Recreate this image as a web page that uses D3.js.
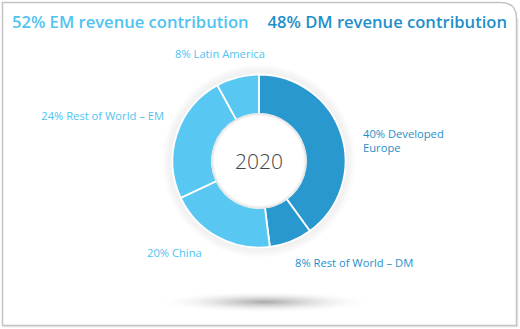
<!DOCTYPE html>
<html><head><meta charset="utf-8">
<script src="https://cdn.jsdelivr.net/npm/d3@7"></script>
<style>html,body{margin:0;padding:0;background:#fff;}svg{display:block;}</style>
</head><body>
<svg id="c" width="520" height="329"></svg>
<script>
const categories = ["Developed Europe", "Rest of World – DM", "China", "Rest of World – EM", "Latin America"];
const values = [40, 8, 20, 24, 8];
const groups = ["DM", "DM", "EM", "EM", "EM"];
const labelLines = [["40% Developed", "Europe"], ["8% Rest of World – DM"], ["20% China"], ["24% Rest of World – EM"], ["8% Latin America"]];
const headlines = ["52% EM revenue contribution", "48% DM revenue contribution"];
const centerLabel = "2020";

const svg = d3.select("#c");
const font = "'Open Sans', sans-serif";
const color = d3.scaleOrdinal().domain(["DM", "EM"]).range(["#2898cf", "#58c7f1"]);
const textColor = d3.scaleOrdinal().domain(["DM", "EM"]).range(["#1f8fca", "#50c3f0"]);

const defs = svg.append("defs");
const sh = defs.append("radialGradient").attr("id", "sh");
sh.append("stop").attr("offset", "0%").attr("stop-color", "#999").attr("stop-opacity", 0.85);
sh.append("stop").attr("offset", "40%").attr("stop-color", "#bbb").attr("stop-opacity", 0.5);
sh.append("stop").attr("offset", "100%").attr("stop-color", "#fff").attr("stop-opacity", 0);
const halo = defs.append("radialGradient").attr("id", "halo").attr("gradientUnits", "userSpaceOnUse")
  .attr("cx", 0).attr("cy", 0).attr("r", 97);
halo.append("stop").attr("offset", "86%").attr("stop-color", "#ececec");
halo.append("stop").attr("offset", "94%").attr("stop-color", "#f4f4f4");
halo.append("stop").attr("offset", "100%").attr("stop-color", "#fff");
const hole = defs.append("radialGradient").attr("id", "hole").attr("gradientUnits", "userSpaceOnUse")
  .attr("cx", 0).attr("cy", 0).attr("r", 47.5);
hole.append("stop").attr("offset", "93%").attr("stop-color", "#fff");
hole.append("stop").attr("offset", "98%").attr("stop-color", "#ececec");
hole.append("stop").attr("offset", "100%").attr("stop-color", "#d6d6d6");

// frame
const x0 = 2.5, y0 = 2.5, x1 = 516.5, y1 = 325.5, rr = 16;
svg.append("path")
  .attr("d", `M${x0},${y1} L${x0},${y0} L${x1 - rr},${y0} Q${x1},${y0} ${x1},${y0 + rr} L${x1},${y1} Z`)
  .attr("fill", "#fff").attr("stroke", "#c4c4c4").attr("stroke-width", 1.5);
svg.append("line").attr("x1", x1 + 1.2).attr("x2", x1 + 1.2).attr("y1", y0 + rr).attr("y2", y1 + 1.5)
  .attr("stroke", "#e0e0e0").attr("stroke-width", 1.2);
svg.append("line").attr("x1", x0).attr("x2", x1 + 1.5).attr("y1", y1 + 1.2).attr("y2", y1 + 1.2)
  .attr("stroke", "#e0e0e0").attr("stroke-width", 1.2);

// headlines
svg.append("text").attr("x", 12).attr("y", 28).text(headlines[0])
  .attr("font-family", font).attr("font-size", 16.6).attr("font-weight", 600).attr("fill", textColor("EM"));
svg.append("text").attr("x", 507).attr("y", 28).attr("text-anchor", "end").text(headlines[1])
  .attr("font-family", font).attr("font-size", 16.6).attr("font-weight", 600).attr("fill", textColor("DM"));

// shadow
svg.append("ellipse").attr("cx", 265).attr("cy", 302).attr("rx", 110).attr("ry", 11).attr("fill", "url(#sh)");

const cx = 259, cy = 161, rOut = 86.5, rIn = 47;
const g = svg.append("g").attr("transform", `translate(${cx},${cy})`);
g.append("circle").attr("r", 97).attr("fill", "url(#halo)");

const pie = d3.pie().sort(null).value(d => d);
const arcs = pie(values);
const arc = d3.arc().innerRadius(rIn).outerRadius(rOut);
g.selectAll("path.seg").data(arcs).join("path").attr("class", "seg")
  .attr("d", arc).attr("fill", (d, i) => color(groups[i]))
  .attr("stroke", "#fff").attr("stroke-width", 1.8);
g.append("circle").attr("r", rIn + 0.5).attr("fill", "url(#hole)");
g.append("text").attr("y", 8).attr("text-anchor", "middle").text(centerLabel)
  .attr("font-family", font).attr("font-size", 21).attr("font-weight", 300).attr("fill", "#444");

const fixed = [[363, 138], [295, 267], [147, 257], [164, 120], [175, 58]];
arcs.forEach((a, i) => {
  const t = svg.append("text").attr("font-family", font).attr("font-size", 11.2)
    .attr("fill", textColor(groups[i])).attr("x", fixed[i][0]).attr("y", fixed[i][1])
    .attr("text-anchor", i === 3 ? "end" : "start");
  labelLines[i].forEach((l, j) => t.append("tspan").attr("x", fixed[i][0]).attr("dy", j ? 14 : 0).text(l));
});
</script>
</body></html>
